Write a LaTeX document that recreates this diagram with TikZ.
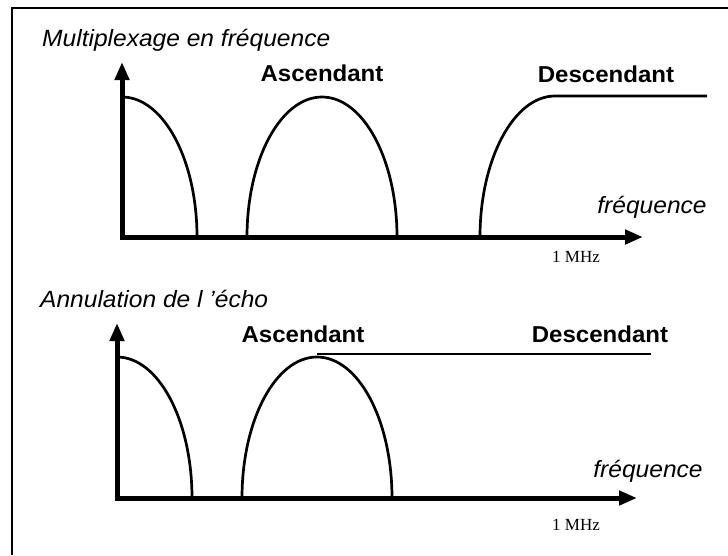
\documentclass[tikz,border=0pt]{standalone}
\usepackage{fontspec}
\setmainfont{Liberation Sans}[FakeStretch=1.045]
\newfontfamily\mhzfont{Liberation Serif}
\usetikzlibrary{arrows.meta}

\tikzset{
  axe/.style={line width=5pt, -{Triangle[length=18pt,width=14pt]}},
  spectre/.style={line width=2.7pt},
  titre/.style={font=\fontsize{23.5}{27}\selectfont\itshape, inner sep=0pt, anchor=base west},
  bande/.style={font=\fontsize{23}{27}\selectfont\bfseries, inner sep=0pt, anchor=base},
  freq/.style={font=\fontsize{23.5}{27}\selectfont\itshape, inner sep=0pt, anchor=base},
  mhz/.style={font=\fontsize{17}{20}\selectfont\mhzfont, inner sep=0pt, anchor=base}
}

\begin{document}
\begin{tikzpicture}[x=1pt, y=-1pt]
  \useasboundingbox (0,0) rectangle (728,555);

  % Frame
  \draw[line width=2pt] (12,555) -- (12,8) -- (728,8);

  % Multiplexage en frequence
  \node[titre] (ttitre) at (42,46) {Multiplexage en fréquence};
  \coordinate (to) at (122,237);
  \coordinate (tyaxe) at (122,62);
  \coordinate (txaxe) at (643,237);
  \draw[axe] (to) -- (tyaxe);
  \draw[axe] ([xshift=-2.5pt]to) -- (txaxe);
  \node[freq] (tfreq) at (652,213) {fréquence};
  \node[mhz] (tmhz) at (576,262) {1 MHz};

  \coordinate (tb1) at (122,97);
  \coordinate (tb2) at (197,237);
  \draw[spectre] (tb1) .. controls (163.4,97) and (197,159.7) .. (tb2);

  \node[bande] (tasc) at (322,81.5) {Ascendant};
  \coordinate (ta1) at (247,237);
  \coordinate (tapic) at (322,97);
  \coordinate (ta2) at (397,237);
  \draw[spectre] (ta1) .. controls (247,159.7) and (280.6,97) .. (tapic)
                       .. controls (363.4,97) and (397,159.7) .. (ta2);

  \node[bande] (tdesc) at (606,82) {Descendant};
  \coordinate (td1) at (480,237);
  \coordinate (td2) at (555,96);
  \coordinate (td3) at (707,96);
  \draw[spectre] (td1) .. controls (480,159.7) and (513.6,96) .. (td2) -- (td3);

  % Annulation de l'echo
  \node[titre] (btitre) at (40,307) {Annulation de l ’écho};
  \coordinate (bo) at (117,498);
  \coordinate (byaxe) at (117,323);
  \coordinate (bxaxe) at (637,498);
  \draw[axe] (bo) -- (byaxe);
  \draw[axe] ([xshift=-2.5pt]bo) -- (bxaxe);
  \node[freq] (bfreq) at (648,477) {fréquence};
  \node[mhz] (bmhz) at (576,530) {1 MHz};

  \coordinate (bb1) at (117,357);
  \coordinate (bb2) at (192,498);
  \draw[spectre] (bb1) .. controls (158.4,357) and (192,420.1) .. (bb2);

  \node[bande] (basc) at (303,342) {Ascendant};
  \coordinate (ba1) at (242,498);
  \coordinate (bapic) at (317,357);
  \coordinate (ba2) at (392,498);
  \draw[spectre] (ba1) .. controls (242,420.1) and (275.6,357) .. (bapic)
                       .. controls (358.4,357) and (392,420.1) .. (ba2);

  \node[bande] (bdesc) at (600,342) {Descendant};
  \coordinate (bd1) at (317,354);
  \coordinate (bd2) at (651,354);
  \draw[spectre] (bd1) -- (bd2);
\end{tikzpicture}
\end{document}
